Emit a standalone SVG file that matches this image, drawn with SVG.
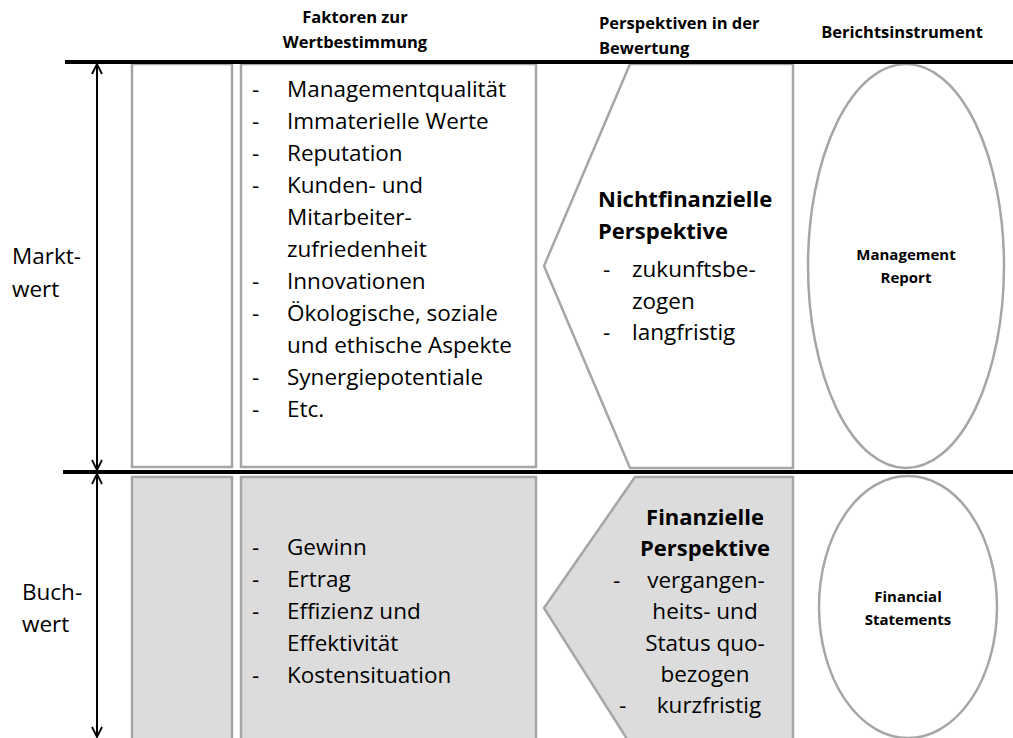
<svg xmlns="http://www.w3.org/2000/svg" width="1013" height="738" viewBox="0 0 1013 738">
<style>
text{font-family:"Open Sans","Liberation Sans",sans-serif;fill:#000}
.h{font-size:16.5px;font-weight:bold}
.b{font-size:22.5px}
.bb{font-size:22px;font-weight:bold}
.s{font-size:15px;font-weight:bold}
.box{stroke:#a6a6a6;stroke-width:2.5}
.w{fill:#fff}
.g{fill:#dcdcdc}
.ax{stroke:#000;stroke-width:2;fill:none}
.thick{stroke:#000;stroke-width:4}
</style>
<defs>
<marker id="ah" viewBox="0 0 12 12" refX="11" refY="6" markerWidth="12" markerHeight="12" markerUnits="userSpaceOnUse" orient="auto">
<path d="M1,1 L11,6 L1,11" fill="none" stroke="#000" stroke-width="1.8"/>
</marker>
</defs>
<rect width="1013" height="738" fill="#fff"/>

<g id="headers">
<text class="h" x="355" y="23" text-anchor="middle">Faktoren zur</text>
<text class="h" x="355" y="48" text-anchor="middle">Wertbestimmung</text>
<text class="h" x="599" y="29">Perspektiven in der</text>
<text class="h" x="599" y="54">Bewertung</text>
<text class="h" x="902" y="38" text-anchor="middle">Berichtsinstrument</text>
</g>

<g id="col1-upper"><rect class="box w" x="132" y="64" width="100" height="403"/></g>
<g id="col1-lower"><rect class="box g" x="132" y="477" width="100" height="270"/></g>

<g id="factors-upper">
<rect class="box w" x="241" y="64" width="295" height="403"/>
<g class="b">
<text x="252" y="97">-</text><text x="287" y="97">Managementqualität</text>
<text x="252" y="129">-</text><text x="287" y="129">Immaterielle Werte</text>
<text x="252" y="161">-</text><text x="287" y="161">Reputation</text>
<text x="252" y="193">-</text><text x="287" y="193">Kunden- und</text>
<text x="287" y="225">Mitarbeiter-</text>
<text x="287" y="257">zufriedenheit</text>
<text x="252" y="289">-</text><text x="287" y="289">Innovationen</text>
<text x="252" y="321">-</text><text x="287" y="321">Ökologische, soziale</text>
<text x="287" y="353">und ethische Aspekte</text>
<text x="252" y="385">-</text><text x="287" y="385">Synergiepotentiale</text>
<text x="252" y="417">-</text><text x="287" y="417">Etc.</text>
</g>
</g>

<g id="factors-lower">
<rect class="box g" x="241" y="477" width="295" height="270"/>
<g class="b">
<text x="252" y="555">-</text><text x="287" y="555">Gewinn</text>
<text x="252" y="587">-</text><text x="287" y="587">Ertrag</text>
<text x="252" y="619">-</text><text x="287" y="619">Effizienz und</text>
<text x="287" y="651">Effektivität</text>
<text x="252" y="683">-</text><text x="287" y="683">Kostensituation</text>
</g>
</g>

<g id="perspective-upper">
<polygon class="box w" points="630,64 793,64 793,468 630,468 544,266"/>
<text class="bb" x="598" y="207">Nichtfinanzielle</text>
<text class="bb" x="598" y="239">Perspektive</text>
<g class="b">
<text x="603" y="277">-</text><text x="632" y="277">zukunftsbe-</text>
<text x="632" y="309">zogen</text>
<text x="603" y="340">-</text><text x="632" y="340">langfristig</text>
</g>
</g>

<g id="perspective-lower">
<polygon class="box g" points="635,477 793,477 793,750 634,750 544,608"/>
<text class="bb" x="705" y="525" text-anchor="middle">Finanzielle</text>
<text class="bb" x="705" y="556" text-anchor="middle">Perspektive</text>
<g class="b">
<text x="613" y="588">-</text><text x="706" y="588" text-anchor="middle">vergangen-</text>
<text x="705" y="619" text-anchor="middle">heits- und</text>
<text x="705" y="651" text-anchor="middle">Status quo-</text>
<text x="705" y="682" text-anchor="middle">bezogen</text>
<text x="619" y="713">-</text><text x="709" y="713" text-anchor="middle">kurzfristig</text>
</g>
</g>

<g id="report-management">
<ellipse class="box" fill="none" cx="906" cy="266" rx="98" ry="202"/>
<text class="s" x="906" y="260" text-anchor="middle">Management</text>
<text class="s" x="906" y="283" text-anchor="middle">Report</text>
</g>

<g id="report-financial">
<ellipse class="box" fill="none" cx="908" cy="607" rx="89" ry="131"/>
<text class="s" x="908" y="602" text-anchor="middle">Financial</text>
<text class="s" x="908" y="625" text-anchor="middle">Statements</text>
</g>

<g id="labels">
<text class="b" x="12" y="264">Markt-</text>
<text class="b" x="12" y="297">wert</text>
<text class="b" x="22" y="600">Buch-</text>
<text class="b" x="22" y="632">wert</text>
</g>

<g id="connectors">
<line class="thick" x1="65" y1="62" x2="1013" y2="62"/>
<line class="thick" x1="63" y1="472" x2="1013" y2="472"/>
<line class="ax" x1="97" y1="267" x2="97" y2="64" marker-end="url(#ah)"/>
<line class="ax" x1="97" y1="267" x2="97" y2="470" marker-end="url(#ah)"/>
<line class="ax" x1="97" y1="605" x2="97" y2="474" marker-end="url(#ah)"/>
<line class="ax" x1="97" y1="605" x2="97" y2="737" marker-end="url(#ah)"/>
</g>
</svg>
